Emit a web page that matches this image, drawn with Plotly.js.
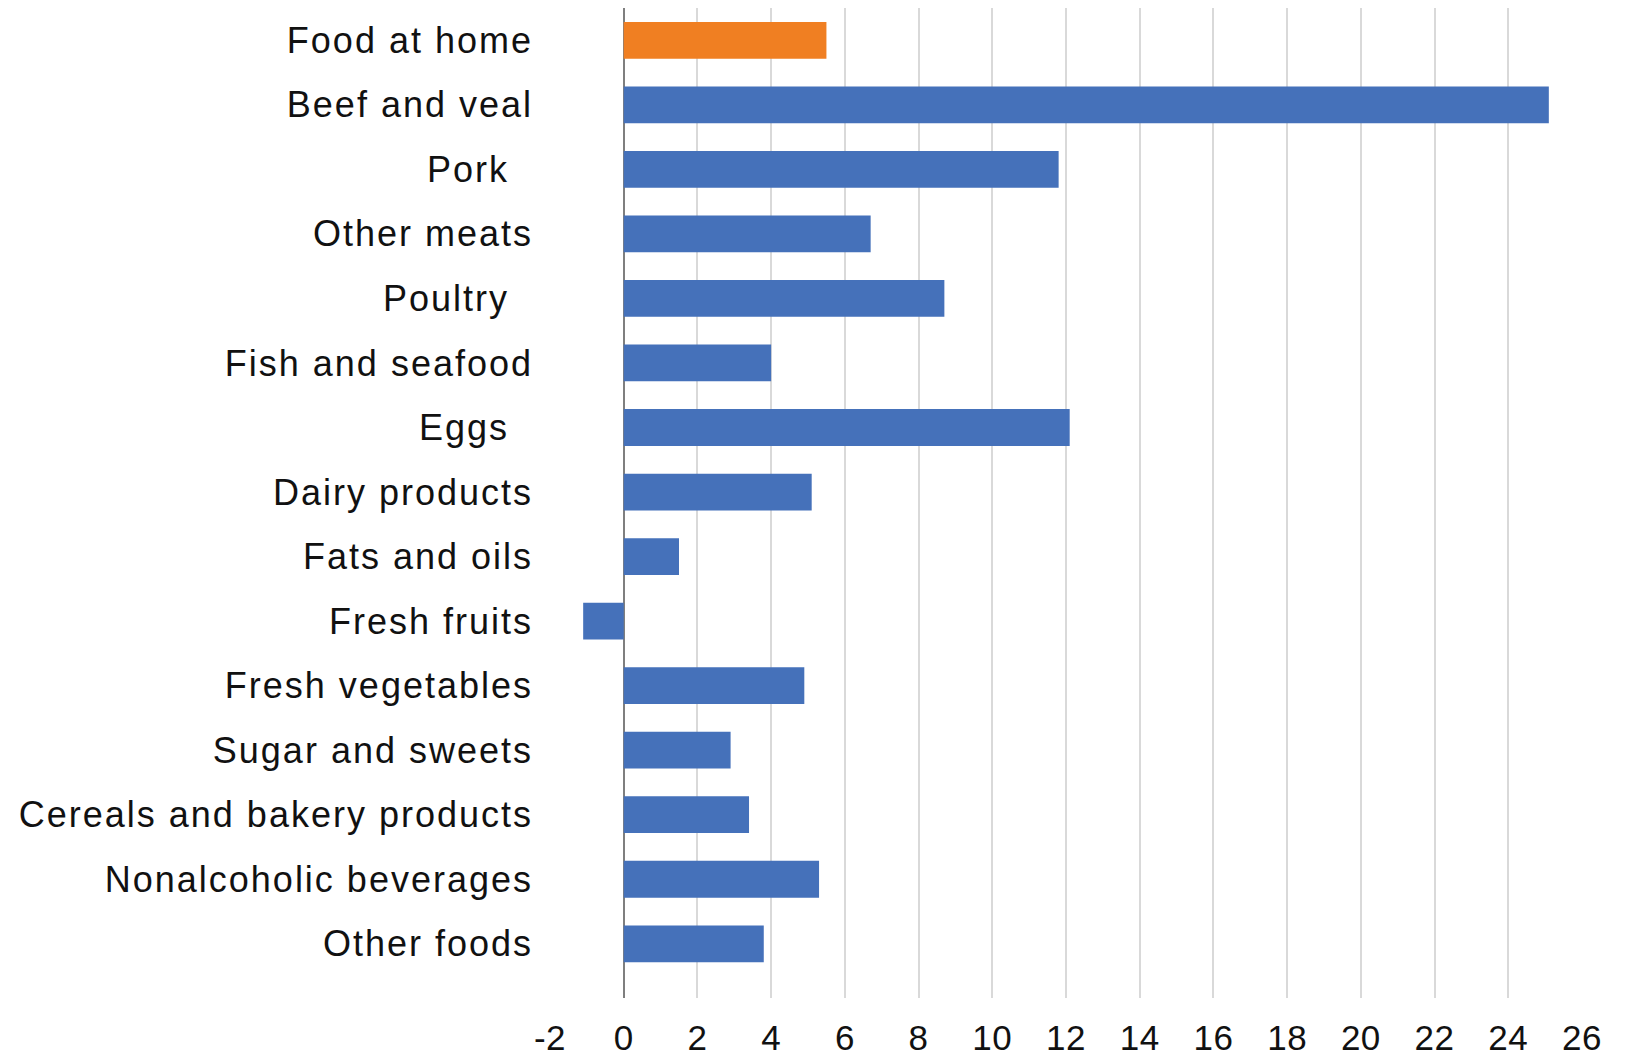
<!DOCTYPE html>
<html>
<head>
<meta charset="utf-8">
<script src="https://cdn.plot.ly/plotly-3.0.1.min.js"></script>
<style>
html,body{margin:0;padding:0;background:#fff;}
#chart{width:1626px;height:1057px;}
#chart .ytick text{letter-spacing:2px;}
#chart .xtick text{letter-spacing:0.5px;}
</style>
</head>
<body>
<div id="chart"></div>
<script>
const categories = [
  "Food at home", "Beef and veal", "Pork\u00a0\u00a0", "Other meats", "Poultry\u00a0\u00a0",
  "Fish and seafood", "Eggs\u00a0\u00a0", "Dairy products", "Fats and oils", "Fresh fruits",
  "Fresh vegetables", "Sugar and sweets", "Cereals and bakery products",
  "Nonalcoholic beverages", "Other foods"
];
const values = [5.5, 25.1, 11.8, 6.7, 8.7, 4.0, 12.1, 5.1, 1.5, -1.1, 4.9, 2.9, 3.4, 5.3, 3.8];
const highlightCategory = "Food at home";
const xTickValues = [-2, 0, 2, 4, 6, 8, 10, 12, 14, 16, 18, 20, 22, 24, 26];

const barColors = categories.map(c => c === highlightCategory ? "#F07F22" : "#4571BA");

const trace = {
  type: "bar",
  orientation: "h",
  y: categories,
  x: values,
  marker: { color: barColors, line: { width: 0 } },
  hoverinfo: "x+y"
};

const layout = {
  width: 1626,
  height: 1057,
  margin: { l: 550, r: 44, t: 8, b: 59 },
  paper_bgcolor: "#ffffff",
  plot_bgcolor: "#ffffff",
  showlegend: false,
  bargap: 0.43,
  font: { family: "Liberation Sans, Arial, sans-serif", color: "#111111" },
  xaxis: {
    range: [-2, 26],
    tickvals: xTickValues,
    ticktext: xTickValues.map(String),
    showgrid: true,
    gridcolor: "#D9D9D9",
    gridwidth: 2,
    zeroline: true,
    zerolinecolor: "#7F7F7F",
    zerolinewidth: 2,
    showline: false,
    ticks: "",
    ticklabelstandoff: 16,
    tickfont: { size: 35, family: "Liberation Sans, Arial, sans-serif", color: "#111111" },
    automargin: false,
    fixedrange: true
  },
  yaxis: {
    type: "category",
    range: [14.84, -0.5],
    showgrid: false,
    zeroline: false,
    showline: false,
    ticks: "",
    ticklabelstandoff: 16,
    tickfont: { size: 36, family: "Liberation Sans, Arial, sans-serif", color: "#111111" },
    automargin: false,
    fixedrange: true
  }
};

Plotly.newPlot("chart", [trace], layout, { displayModeBar: false, staticPlot: true });
</script>
</body>
</html>
